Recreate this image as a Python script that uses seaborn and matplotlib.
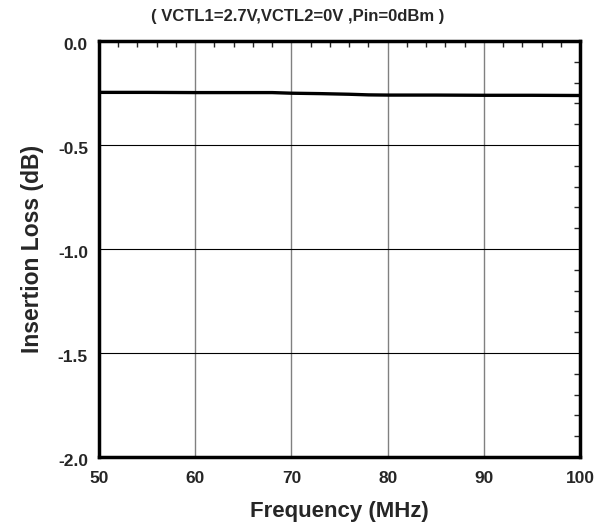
import numpy as np
import pandas as pd
import matplotlib
matplotlib.use("Agg")
import matplotlib.pyplot as plt
from matplotlib.ticker import MultipleLocator, FormatStrFormatter
import matplotlib.transforms as mtransforms
import seaborn as sns

# data
freq_mhz = [50, 55, 60, 65, 68, 70, 73, 76, 78, 80, 85, 90, 95, 100]
insertion_loss_db = [-0.247, -0.247, -0.248, -0.248, -0.248, -0.251, -0.253, -0.256, -0.259, -0.260, -0.260, -0.261, -0.261, -0.262]

sns.set_style("white")
plt.rcParams['font.family'] = ['Liberation Sans', 'DejaVu Sans']
plt.rcParams['font.weight'] = 'bold'

df = pd.DataFrame({"freq": freq_mhz, "il": insertion_loss_db})

fig = plt.figure(figsize=(5.95, 5.27), dpi=100)
ax = fig.add_axes([0.1664, 0.1328, 0.8086, 0.7894])

sns.lineplot(data=df, x="freq", y="il", ax=ax, color="black", linewidth=2.4)

ax.set_xlim(50, 100)
ax.set_ylim(-2.0, 0.0)
ax.xaxis.set_major_locator(MultipleLocator(10))
ax.xaxis.set_minor_locator(MultipleLocator(2))
ax.yaxis.set_major_locator(MultipleLocator(0.5))
ax.yaxis.set_minor_locator(MultipleLocator(0.1))
ax.yaxis.set_major_formatter(FormatStrFormatter('%.1f'))

ax.xaxis.grid(True, which='major', color='#808080', linewidth=1.0)
ax.yaxis.grid(True, which='major', color='black', linewidth=0.8)

ax.tick_params(which='both', direction='in', top=True, right=True, labelsize=12.5)
ax.tick_params(axis='x', which='major', length=0, pad=10)
ax.tick_params(axis='y', which='major', length=0, pad=8)
ax.tick_params(which='minor', length=4, width=1)
# y tick labels sit a little below their gridlines in the reference
offset = mtransforms.ScaledTranslation(0, -3 / 100, fig.dpi_scale_trans)
for lab in ax.get_yticklabels():
    lab.set_transform(lab.get_transform() + offset)
for lab in ax.get_xticklabels() + ax.get_yticklabels():
    lab.set_fontweight('bold')

for sp in ax.spines.values():
    sp.set_linewidth(2.5)
    sp.set_color('black')

ax.set_xlabel("Frequency (MHz)", fontsize=16, fontweight='bold', labelpad=11)
ax.set_ylabel("Insertion Loss (dB)", fontsize=16.5, fontweight='bold', labelpad=10)
fig.text(0.5, 1 - 16 / 527, "( VCTL1=2.7V,VCTL2=0V ,Pin=0dBm )", fontsize=12,
         fontweight='bold', ha='center', va='center')

fig.savefig("out.png", dpi=100)
